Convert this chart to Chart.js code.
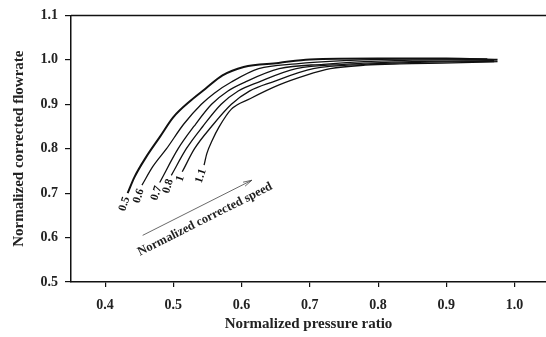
<!DOCTYPE html>
<html>
<head>
<meta charset="utf-8">
<script src="https://cdn.jsdelivr.net/npm/chart.js@4.4.0/dist/chart.umd.min.js"></script>
<style>
  html, body { margin: 0; padding: 0; background: #fff; }
  #wrap { width: 546px; height: 337px; }
</style>
</head>
<body>
<div id="wrap"><canvas id="mapChart"></canvas></div>
<script>
// speed lines, normalized pressure ratio (x) vs normalized corrected flowrate (y)

var speedLabels = ['0.5', '0.6', '0.7', '0.8', '1', '1.1'];

var ratio05 = [0.433, 0.443, 0.460, 0.480, 0.500, 0.526, 0.547, 0.572, 0.603, 0.654, 0.700, 0.800, 0.900, 0.975];
var flow05  = [0.700, 0.736, 0.781, 0.826, 0.871, 0.909, 0.935, 0.965, 0.984, 0.993, 1.001, 1.003, 1.003, 1.000];

var ratio06 = [0.454, 0.470, 0.490, 0.515, 0.541, 0.560, 0.585, 0.625, 0.680, 0.750, 0.850, 0.960];
var flow06  = [0.718, 0.760, 0.800, 0.855, 0.900, 0.925, 0.950, 0.980, 0.991, 0.998, 1.002, 1.002];

var ratio07 = [0.480, 0.507, 0.530, 0.556, 0.580, 0.605, 0.655, 0.720, 0.800, 0.900, 0.965];
var flow07  = [0.724, 0.800, 0.850, 0.900, 0.930, 0.950, 0.980, 0.990, 0.997, 1.000, 1.000];

var ratio08 = [0.497, 0.519, 0.543, 0.570, 0.595, 0.625, 0.680, 0.750, 0.850, 0.970];
var flow08  = [0.740, 0.800, 0.850, 0.900, 0.930, 0.950, 0.980, 0.990, 0.996, 0.998];

var ratio10 = [0.513, 0.531, 0.556, 0.585, 0.612, 0.645, 0.705, 0.780, 0.880, 0.970];
var flow10  = [0.748, 0.800, 0.850, 0.900, 0.930, 0.950, 0.980, 0.990, 0.995, 0.996];

var ratio11 = [0.545, 0.549, 0.557, 0.567, 0.585, 0.613, 0.654, 0.694, 0.730, 0.781, 0.832, 0.909, 0.975];
var flow11  = [0.763, 0.789, 0.819, 0.849, 0.889, 0.913, 0.943, 0.965, 0.980, 0.988, 0.991, 0.993, 0.996];

var xTicks = [0.4, 0.5, 0.6, 0.7, 0.8, 0.9, 1.0];
var yTicks = [0.5, 0.6, 0.7, 0.8, 0.9, 1.0, 1.1];

// arrow for "Normalized corrected speed"
var arrowFrom = [0.455, 0.605];
var arrowTo   = [0.615, 0.729];
var arrowText = 'Normalized corrected speed';

var serif = '"Liberation Serif", "DejaVu Serif", serif';

function pts(xs, ys) {
    return xs.map(function(x, i) { return {x: x, y: ys[i]}; });
}

var lines = [
    pts(ratio05, flow05), pts(ratio06, flow06), pts(ratio07, flow07),
    pts(ratio08, flow08), pts(ratio10, flow10), pts(ratio11, flow11)
];

var datasets = lines.map(function(p, i) {
    return {
        label: speedLabels[i],
        data: p,
        borderColor: '#111',
        borderWidth: i === 0 ? 2 : 1.3,
        pointRadius: 0,
        fill: false,
        cubicInterpolationMode: 'monotone'
    };
});

var extras = {
    id: 'extras',
    afterDatasetsDraw: function(chart) {
        var c = chart.ctx, xs = chart.scales.x, ys = chart.scales.y, a = chart.chartArea;
        c.save();
        // top frame line
        c.strokeStyle = '#111';
        c.lineWidth = 1.5;
        c.beginPath();
        c.moveTo(a.left, a.top);
        c.lineTo(a.right, a.top);
        c.stroke();

        // speed labels at the low end of each line
        c.fillStyle = '#111';
        c.font = 'bold 11.5px ' + serif;
        c.textAlign = 'right';
        c.textBaseline = 'middle';
        lines.forEach(function(p, i) {
            var px = xs.getPixelForValue(p[0].x), py = ys.getPixelForValue(p[0].y);
            c.save();
            c.translate(px - 1, py + 4);
            c.rotate(-72 * Math.PI / 180);
            c.fillText(speedLabels[i], 0, 0);
            c.restore();
        });

        // arrow
        var x0 = xs.getPixelForValue(arrowFrom[0]), y0 = ys.getPixelForValue(arrowFrom[1]);
        var x1 = xs.getPixelForValue(arrowTo[0]), y1 = ys.getPixelForValue(arrowTo[1]);
        var ang = Math.atan2(y1 - y0, x1 - x0);
        c.strokeStyle = '#444';
        c.lineWidth = 0.8;
        c.beginPath();
        c.moveTo(x0, y0);
        c.lineTo(x1, y1);
        c.stroke();
        c.beginPath();
        c.moveTo(x1, y1);
        c.lineTo(x1 - 9 * Math.cos(ang - 0.25), y1 - 9 * Math.sin(ang - 0.25));
        c.moveTo(x1, y1);
        c.lineTo(x1 - 9 * Math.cos(ang + 0.25), y1 - 9 * Math.sin(ang + 0.25));
        c.stroke();

        // arrow caption
        c.fillStyle = '#222';
        c.font = 'bold 12.5px ' + serif;
        c.textAlign = 'center';
        c.textBaseline = 'top';
        c.save();
        c.translate((x0 + x1) / 2 + 5, (y0 + y1) / 2 + 6);
        c.rotate(ang);
        c.fillText(arrowText, 0, 0);
        c.restore();
        c.restore();
    }
};

var tickFont = {family: serif, size: 14, weight: 'bold'};
var titleFont = {family: serif, size: 15, weight: 'bold'};

new Chart(document.getElementById('mapChart').getContext('2d'), {
    type: 'line',
    data: {datasets: datasets},
    options: {
        responsive: true,
        maintainAspectRatio: false,
        animation: false,
        layout: {padding: {top: 15, right: 0, left: 0, bottom: 0}},
        plugins: {legend: {display: false}, tooltip: {enabled: false}},
        scales: {
            x: {
                type: 'linear',
                min: 0.35,
                max: 1.046,
                afterFit: function(s) { s.height = 55; },
                afterBuildTicks: function(s) { s.ticks = xTicks.map(function(v) { return {value: v}; }); },
                border: {display: true, color: '#111', width: 1.5},
                grid: {drawOnChartArea: false, drawTicks: true, tickLength: 5, color: '#111', lineWidth: 1.2},
                ticks: {
                    color: '#222', font: tickFont, padding: 10, maxRotation: 0,
                    callback: function(v) { return v.toFixed(1); }
                },
                title: {display: true, text: 'Normalized pressure ratio', color: '#222', font: titleFont, padding: {top: 2, bottom: 4}}
            },
            y: {
                type: 'linear',
                min: 0.5,
                max: 1.1,
                afterFit: function(s) { s.width = 71; },
                afterBuildTicks: function(s) { s.ticks = yTicks.map(function(v) { return {value: v}; }); },
                border: {display: true, color: '#111', width: 1.5},
                grid: {drawOnChartArea: false, drawTicks: true, tickLength: 6, color: '#111', lineWidth: 1.2},
                ticks: {
                    color: '#222', font: tickFont, padding: 7,
                    callback: function(v) { return v.toFixed(1); }
                },
                title: {display: true, text: 'Normalized corrected flowrate', color: '#222', font: titleFont, padding: {top: 10, bottom: 4}}
            }
        }
    },
    plugins: [extras]
});
</script>
</body>
</html>
